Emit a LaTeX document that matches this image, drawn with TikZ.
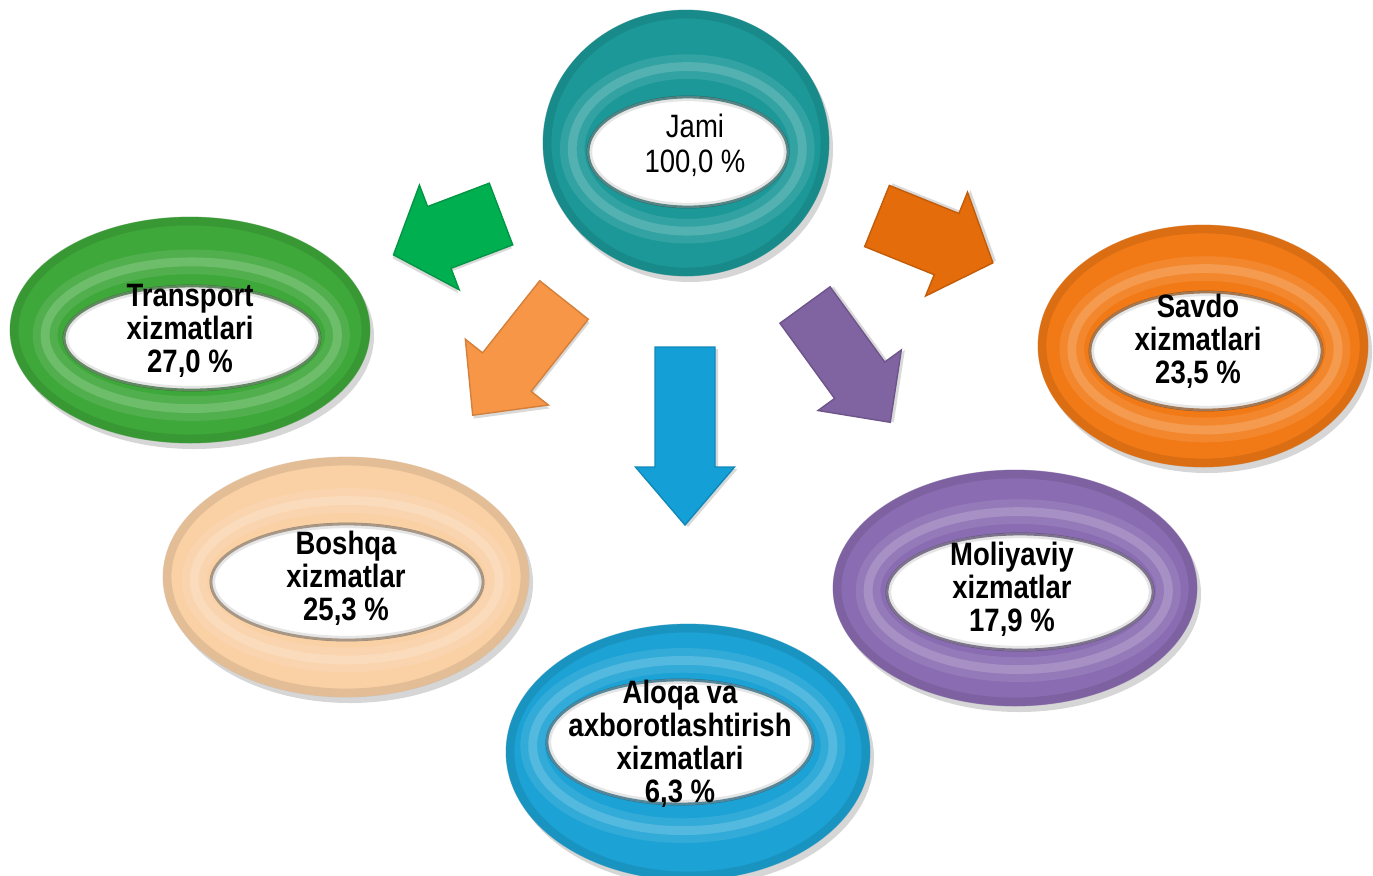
\documentclass[tikz,border=0pt]{standalone}
\usepackage{fontspec}
\setmainfont{Liberation Sans}[FakeStretch=0.85]
\usetikzlibrary{calc}

\definecolor{ringteal}{RGB}{28,152,152}
\definecolor{ringgreen}{RGB}{62,168,58}
\definecolor{ringorange}{RGB}{242,122,22}
\definecolor{ringpeach}{RGB}{250,208,165}
\definecolor{ringpurple}{RGB}{138,108,178}
\definecolor{ringblue}{RGB}{28,162,212}
\definecolor{arrgreen}{RGB}{0,176,80}
\definecolor{arrlight}{RGB}{247,150,70}
\definecolor{arrblue}{RGB}{20,160,215}
\definecolor{arrpurple}{RGB}{128,100,162}
\definecolor{arrorange}{RGB}{228,108,10}

% ring: colour, outer centre, outer rx, outer ry, hole centre, hole rx, hole ry
\newcommand{\ring}[7]{%
  \fill[black, opacity=0.16, even odd rule, shift={(4,6)}]
    #2 ellipse [x radius=#3, y radius=#4] #5 ellipse [x radius=#6, y radius=#7];
  \fill[#1, even odd rule]
    #2 ellipse [x radius=#3, y radius=#4] #5 ellipse [x radius=#6, y radius=#7];
  \draw[#1!82!black, line width=2.5pt, opacity=0.5]
    #2 ellipse [x radius={#3-4}, y radius={#4-4}];
  \draw[#1!60!white, line width=7pt, opacity=0.25]
    ($#5!0.35!#2$) ellipse [x radius={#6+0.35*(#3-#6)}, y radius={#7+0.35*(#4-#7)}];
  \draw[#1!40!white, line width=2.5pt, opacity=0.3]
    ($#5!0.35!#2$) ellipse [x radius={#6+0.35*(#3-#6)}, y radius={#7+0.35*(#4-#7)}];
  \fill[white] #5 ellipse [x radius=#6, y radius=#7];
  \draw[#1!60!black, line width=0.8pt] #5 ellipse [x radius=#6, y radius=#7];
  \draw[black!25, line width=1.5pt, opacity=0.4] #5 ellipse [x radius={#6-1.5}, y radius={#7-1.5}];
}

% block arrow: colour, tail centre, angle, length, shaft width, head width, head length
\newcommand{\blockarrow}[7]{%
  \begin{scope}[shift={#2}, rotate=#3]
    \fill[black, opacity=0.15, shift={(2,-3)}]
      (0,{-#5/2}) -- ({#4-#7},{-#5/2}) -- ({#4-#7},{-#6/2}) -- (#4,0)
      -- ({#4-#7},{#6/2}) -- ({#4-#7},{#5/2}) -- (0,{#5/2}) -- cycle;
    \fill[#1, draw=#1!85!black, line width=0.4pt]
      (0,{-#5/2}) -- ({#4-#7},{-#5/2}) -- ({#4-#7},{-#6/2}) -- (#4,0)
      -- ({#4-#7},{#6/2}) -- ({#4-#7},{#5/2}) -- (0,{#5/2}) -- cycle;
  \end{scope}}

\begin{document}
\begin{tikzpicture}[
    x=0.01cm, y=-0.01cm,
    lbl/.style  = {align=center, inner sep=0pt, font=\bfseries\fontsize{9.2}{9.4}\selectfont},
    top/.style  = {align=center, inner sep=0pt, font=\fontsize{9.2}{9.9}\selectfont}
  ]
  \fill[white] (0,0) rectangle (1373,875);
  \clip (0,0) rectangle (1373,875);

  % --- arrows ---
  \blockarrow{arrgreen}{(501,214)}{200.8}{115}{66}{112}{49}
  \blockarrow{arrlight}{(564,300)}{231.6}{147}{62}{106}{55}
  \blockarrow{arrblue}{(685,347)}{270}{178}{60}{99}{58}
  \blockarrow{arrpurple}{(805,305)}{-54}{145}{62}{103}{52}
  \blockarrow{arrorange}{(877,216)}{-22}{125}{66}{112}{50}

  % --- rings ---
  \ring{ringteal}{(686,143)}{143}{133}{(688,152)}{100}{55}
  \ring{ringgreen}{(190,330)}{180}{113}{(192,338)}{128}{52}
  \ring{ringorange}{(1203,346)}{165}{121}{(1206,351)}{116}{59}
  \ring{ringpeach}{(346,577)}{183}{120}{(347,582)}{136}{58}
  \ring{ringpurple}{(1015,588)}{182}{118}{(1020,592)}{133}{58}
  \ring{ringblue}{(688,752)}{182}{128}{(680,742)}{133}{62}

  % --- labels ---
  \node[top] (jami)  at (695,145)  {Jami\\100,0 \%};
  \node[lbl] (trans) at (190,331)  {Transport\\xizmatlari\\27,0 \%};
  \node[lbl] (savdo) at (1198,341) {Savdo\\xizmatlari\\23,5 \%};
  \node[lbl] (boshq) at (346,578)  {Boshqa\\xizmatlar\\25,3 \%};
  \node[lbl] (moliy) at (1012,589) {Moliyaviy\\xizmatlar\\17,9 \%};
  \node[lbl] (aloqa) at (680,744)  {Aloqa va\\axborotlashtirish\\xizmatlari\\6,3 \%};

\end{tikzpicture}
\end{document}
